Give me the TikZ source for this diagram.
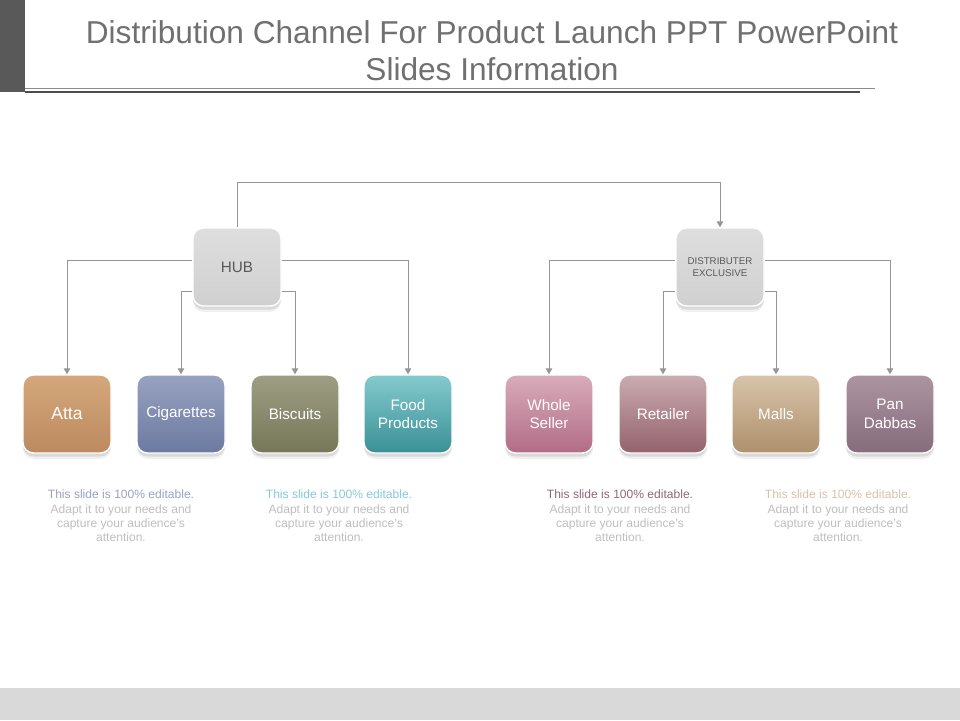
\documentclass[tikz,border=0pt]{standalone}
\usepackage{fontspec}
\setmainfont{Liberation Sans}
\usetikzlibrary{arrows.meta,shadows}

\definecolor{titlegray}{RGB}{112,112,112}
\definecolor{bargray}{RGB}{89,89,89}
\definecolor{bandgray}{RGB}{217,217,217}
\definecolor{linegray}{RGB}{150,150,150}
\definecolor{notegray}{RGB}{190,190,190}
\definecolor{headtop}{RGB}{222,222,222}
\definecolor{headbot}{RGB}{208,208,208}
\definecolor{attatop}{RGB}{212,168,124}
\definecolor{attabot}{RGB}{188,138,94}
\definecolor{cigtop}{RGB}{152,162,192}
\definecolor{cigbot}{RGB}{108,122,160}
\definecolor{bisctop}{RGB}{158,158,132}
\definecolor{biscbot}{RGB}{118,118,88}
\definecolor{foodtop}{RGB}{132,202,206}
\definecolor{foodbot}{RGB}{58,144,150}
\definecolor{wholetop}{RGB}{216,172,186}
\definecolor{wholebot}{RGB}{178,108,134}
\definecolor{rettop}{RGB}{202,172,176}
\definecolor{retbot}{RGB}{148,98,108}
\definecolor{mallstop}{RGB}{216,196,170}
\definecolor{mallsbot}{RGB}{174,144,108}
\definecolor{pantop}{RGB}{172,148,160}
\definecolor{panbot}{RGB}{134,108,124}
\definecolor{notemauve}{RGB}{140,104,120}
\definecolor{notetan}{RGB}{214,194,172}

\begin{document}
\begin{tikzpicture}[x=0.03cm, y=-0.03cm,
        box/.style = {rectangle, rounded corners=9pt, draw=white, line width=1.2pt, minimum width=2.64cm, minimum height=2.34cm, align=center, text=white, font=\fontsize{13}{16}\selectfont,
            drop shadow={shadow xshift=0pt, shadow yshift=-5pt, opacity=0.12},
            drop shadow={shadow xshift=0pt, shadow yshift=-3pt, opacity=0.2}},
        head/.style = {box, top color=headtop, bottom color=headbot, text=black!65},
        arrow/.style = {draw=linegray, line width=0.8pt, -{Triangle[width=5.5pt,length=5pt]}},
        note/.style = {align=center, text=notegray, font=\fontsize{10.3}{12.3}\selectfont}
    ]
    \useasboundingbox (0,0) rectangle (960,720);

    % ================= TITLE =================
    \fill[bargray] (0,0) rectangle (25,92);
    \node[font=\fontsize{27}{31.5}\selectfont, text=titlegray, align=center] (title) at (492, 51) {Distribution Channel For Product Launch PPT PowerPoint\\Slides Information};
    \draw[black!45, line width=0.6pt] (25,88) -- (875,88);
    \draw[black!70, line width=1.4pt] (25,92) -- (860,92);

    % ================= TOP LEVEL =================
    \node[head] (hub) at (237, 267) {HUB};
    \node[head, font=\fontsize{8.3}{9.8}\selectfont] (dist) at (720, 267) {DISTRIBUTER\\EXCLUSIVE};

    % ================= LEFT: HUB =================
    \node[box, top color=attatop, bottom color=attabot, font=\fontsize{15}{18}\selectfont] (atta) at (67, 414) {Atta};
    \node[box, top color=cigtop, bottom color=cigbot] (cig) at (181, 414) {Cigarettes};
    \node[box, top color=bisctop, bottom color=biscbot] (bisc) at (295, 414) {Biscuits};
    \node[box, top color=foodtop, bottom color=foodbot] (food) at (408, 414) {Food\\Products};

    % ================= RIGHT: DISTRIBUTER =================
    \node[box, top color=wholetop, bottom color=wholebot] (whole) at (549, 414) {Whole\\Seller};
    \node[box, top color=rettop, bottom color=retbot] (retail) at (663, 414) {Retailer};
    \node[box, top color=mallstop, bottom color=mallsbot] (malls) at (776, 414) {Malls};
    \node[box, top color=pantop, bottom color=panbot] (pan) at (890, 414) {Pan\\Dabbas};

    % Conectores
    \draw[arrow] (hub.north) -- ++(0,-45) -| (dist);

    \draw[arrow] ([yshift=0.21cm]hub.west) -| (atta);
    \draw[arrow] ([yshift=-0.72cm]hub.west) -| (cig);
    \draw[arrow] ([yshift=-0.72cm]hub.east) -| (bisc);
    \draw[arrow] ([yshift=0.21cm]hub.east) -| (food);

    \draw[arrow] ([yshift=0.21cm]dist.west) -| (whole);
    \draw[arrow] ([yshift=-0.72cm]dist.west) -| (retail);
    \draw[arrow] ([yshift=-0.72cm]dist.east) -| (malls);
    \draw[arrow] ([yshift=0.21cm]dist.east) -| (pan);

    % ================= NOTES =================
    \node[note] (note1) at (121, 516) {\textcolor{cigtop}{This slide is 100\% editable.}\\Adapt it to your needs and\\capture your audience's\\attention.};
    \node[note] (note2) at (339, 516) {\textcolor{foodtop}{This slide is 100\% editable.}\\Adapt it to your needs and\\capture your audience's\\attention.};
    \node[note] (note3) at (620, 516) {\textcolor{notemauve}{This slide is 100\% editable.}\\Adapt it to your needs and\\capture your audience's\\attention.};
    \node[note] (note4) at (838, 516) {\textcolor{notetan}{This slide is 100\% editable.}\\Adapt it to your needs and\\capture your audience's\\attention.};

    % Banda inferior
    \fill[bandgray] (0,688) rectangle (960,720);

\end{tikzpicture}
\end{document}
